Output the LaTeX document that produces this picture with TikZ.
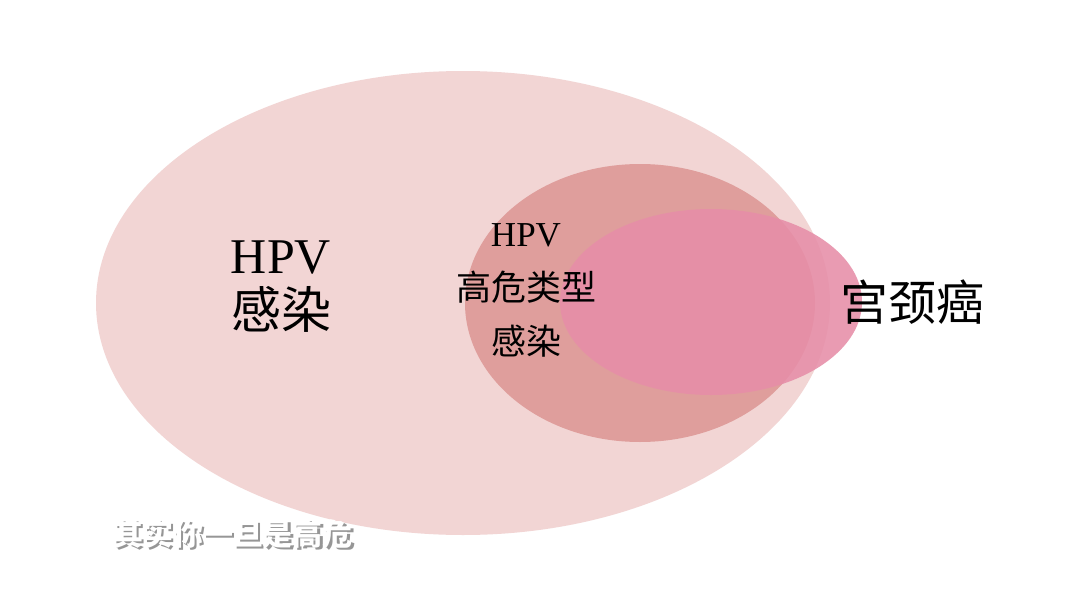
\documentclass[tikz,border=0pt]{standalone}
\usepackage{fontspec}
\setmainfont{Liberation Serif}
\newfontfamily\cjk{Noto Sans CJK SC}
\definecolor{bigfill}{RGB}{242,213,212}
\definecolor{midfill}{RGB}{223,158,156}
\definecolor{smallfill}{RGB}{230,142,168}
\definecolor{shadowgray}{RGB}{150,150,150}
\newcommand{\shadowtext}[1]{\rlap{\kern2.5pt\raisebox{-2.5pt}{\textcolor{shadowgray}{#1}}}\textcolor{white}{#1}}
\tikzset{
  lbl/.style={align=center, text=black, inner sep=0pt},
}
\begin{document}
\begin{tikzpicture}[x=1pt,y=-1pt]
\useasboundingbox (0,0) rectangle (1080,608);
\fill[white] (0,0) rectangle (1080,608);
\fill[bigfill] (463,303) ellipse [x radius=367, y radius=232];
\fill[midfill] (640,303) ellipse [x radius=175, y radius=139];
\fill[smallfill, fill opacity=0.88] (711,302) ellipse [x radius=151, y radius=93];
\node[lbl, font=\fontsize{50}{57}\selectfont] (hpv) at (281,287) {HPV\\[-2pt]{\cjk 感染}};
\node[lbl, font=\fontsize{35}{54}\selectfont] (high) at (526,290) {HPV\\{\cjk 高危类型}\\{\cjk 感染}};
\node[lbl, font=\fontsize{48}{56}\selectfont\cjk] (cc) at (912,302) {宫颈癌};
\node[lbl, font=\fontsize{30}{34}\selectfont\cjk\bfseries] (sub) at (233,535) {\shadowtext{其实你一旦是高危}};
\end{tikzpicture}
\end{document}
